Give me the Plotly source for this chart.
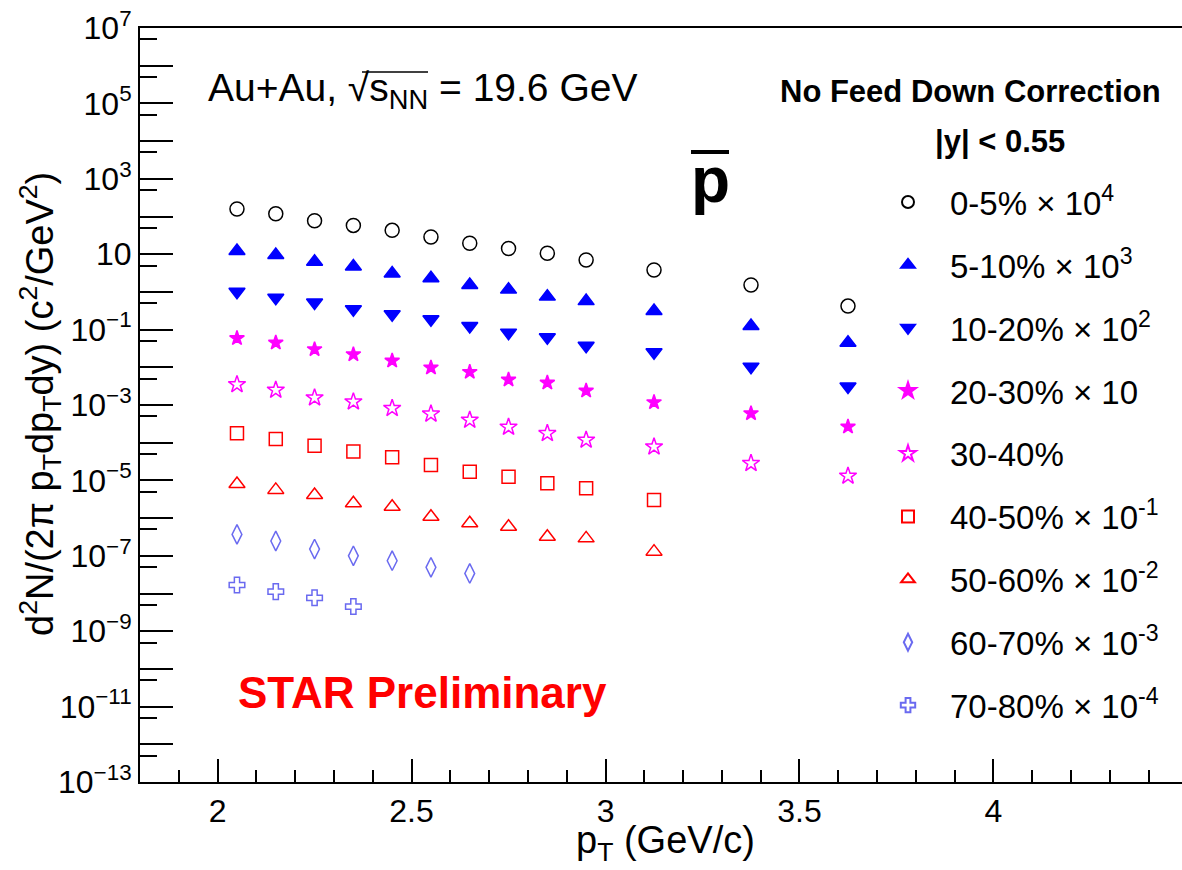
import numpy as np
import plotly.graph_objects as go

W, H = 1182, 870
ML, MR, MT, MB = 140, 0, 28, 88
PW, PH = W - ML - MR, H - MT - MB

def pxx(px):
    return (px - ML) / PW

def pyy(py):
    return (H - MB - py) / PH

# ---------------- data ----------------
pt = [2.05, 2.15, 2.25, 2.35, 2.45, 2.55, 2.65, 2.75, 2.85, 2.95, 3.125, 3.375, 3.625]

c0_5 = [158, 118, 77, 58, 43, 28.6, 19.5, 14.2, 10.6, 7.0, 3.8, 1.52, 0.42]
c5_10 = [12.2, 9.5, 6.3, 4.7, 3.1, 2.3, 1.52, 1.15, 0.75, 0.57, 0.31, 0.124, 0.045]
c10_20 = [1.01, 0.70, 0.52, 0.345, 0.255, 0.188, 0.124, 0.083, 0.0625, 0.0374, 0.025, 0.0104, 0.0031]
c20_30 = [0.059, 0.045, 0.030, 0.022, 0.015, 0.0098, 0.0075, 0.0047, 0.0039, 0.0024, 0.00118, 0.0006, 0.000265]
c30_40 = [0.0035, 0.0025, 0.00156, 0.00122, 0.00082, 0.00058, 0.0004, 0.00026, 0.000177, 0.000118, 7.8e-5, 2.84e-5, 1.31e-5]
c40_50 = [1.77e-4, 1.25e-4, 8.3e-5, 5.8e-5, 4.1e-5, 2.56e-5, 1.7e-5, 1.25e-5, 8.4e-6, 6.2e-6, 3.0e-6]
c50_60 = [8.0e-6, 5.6e-6, 4.1e-6, 2.47e-6, 2.0e-6, 1.09e-6, 7.3e-7, 5.9e-7, 3.2e-7, 2.9e-7, 1.29e-7]
c60_70 = [3.7e-7, 2.47e-7, 1.51e-7, 1.0e-7, 7.4e-8, 4.95e-8, 3.4e-8]
c70_80 = [1.68e-8, 1.12e-8, 7.7e-9, 4.5e-9]

series_names = [
    "0-5% × 10<sup>4</sup>", "5-10% × 10<sup>3</sup>", "10-20% × 10<sup>2</sup>",
    "20-30% × 10", "30-40%", "40-50% × 10<sup>-1</sup>", "50-60% × 10<sup>-2</sup>",
    "60-70% × 10<sup>-3</sup>", "70-80% × 10<sup>-4</sup>",
]
series_values = [c0_5, c5_10, c10_20, c20_30, c30_40, c40_50, c50_60, c60_70, c70_80]

x_tick_vals = [2, 2.5, 3, 3.5, 4]
x_tick_text = ["2", "2.5", "3", "3.5", "4"]
y_exponents = list(range(-13, 8))

# ---------------- styles ----------------
LB = "#6a6af0"
styles = [
    dict(symbol="circle-open", color="black", size=14),
    dict(symbol="triangle-up", color="#0000ff", size=14),
    dict(symbol="triangle-down", color="#0000ff", size=14),
    dict(symbol="star", color="#ff00ff", size=11),
    dict(symbol="star-open", color="#ff00ff", size=13),
    dict(symbol="square-open", color="#ff0000", size=13),
    dict(symbol="triangle-up-open", color="#ff0000", size=14),
    dict(symbol="diamond-tall-open", color=LB, size=14),
    dict(symbol="cross-open", color=LB, size=13),
]

FONT = "Liberation Sans, Arial, Helvetica, sans-serif"

fig = go.Figure()
for i, (name, vals, st) in enumerate(zip(series_names, series_values, styles)):
    fig.add_trace(go.Scatter(
        x=pt[:len(vals)], y=vals, mode="markers", name=name,
        legendgroup=f"g{i}",
        marker=dict(symbol=st["symbol"], size=st["size"], color=st["color"],
                    line=dict(color=st["color"], width=1.5)),
    ))

def ylab(e):
    if e % 2 == 0:
        return ""
    if e == 1:
        return "10"
    s = str(e).replace("-", "\u2212")
    return f"10<sup>{s}</sup>"

fig.update_layout(
    width=W, height=H,
    margin=dict(l=ML, r=MR, t=MT, b=MB),
    paper_bgcolor="white", plot_bgcolor="white",
    font=dict(family=FONT, color="black", size=32),
    showlegend=True,
    legend=dict(
        x=pxx(866), y=pyy(174), xanchor="left", yanchor="top",
        font=dict(family=FONT, size=33, color="black"),
        bgcolor="rgba(0,0,0,0)", tracegroupgap=17, itemsizing="constant",
        itemwidth=74,
    ),
    xaxis=dict(
        range=[1.8, 4.486], showgrid=False, zeroline=False,
        showline=True, linecolor="black", linewidth=2, mirror=True,
        ticks="inside", ticklen=23, tickwidth=1.5, tickcolor="black",
        tickmode="array", tickvals=x_tick_vals, ticktext=x_tick_text,
        tickfont=dict(size=32, family=FONT),
        minor=dict(ticks="inside", ticklen=12, tickwidth=1.5, tickcolor="black",
                   tickmode="array", tickvals=list(np.round(np.arange(1.8, 4.49, 0.1), 2))),
    ),
    yaxis=dict(
        type="log", range=[-13, 7], showgrid=False, zeroline=False,
        showline=True, linecolor="black", linewidth=2,
        ticks="inside", ticklen=33, tickwidth=1.5, tickcolor="black",
        tickmode="array", tickvals=[10.0 ** e for e in y_exponents],
        ticktext=[ylab(e) for e in y_exponents],
        tickfont=dict(size=32, family=FONT),
        minor=dict(ticks="inside", ticklen=17, tickwidth=1.5, tickcolor="black",
                   tickmode="array", tickvals=[5 * 10.0 ** e for e in range(-13, 7)]),
    ),
)

ann = [
    dict(text="Au+Au, \u221as<sub>NN</sub> = 19.6 GeV", x=pxx(206), y=pyy(90),
         xanchor="left", yanchor="middle", font=dict(size=39)),
    dict(text="<b>No Feed Down Correction</b>", x=pxx(970), y=pyy(91),
         xanchor="center", yanchor="middle", font=dict(size=31)),
    dict(text="<b>|y| < 0.55</b>", x=pxx(1000), y=pyy(141),
         xanchor="center", yanchor="middle", font=dict(size=31)),
    dict(text="<b>p</b>", x=pxx(710), y=pyy(180),
         xanchor="center", yanchor="middle", font=dict(size=64)),
    dict(text="<b>STAR Preliminary</b>", x=pxx(236), y=pyy(692),
         xanchor="left", yanchor="middle", font=dict(size=44, color="#ff0000")),
    dict(text="p<sub>T</sub> (GeV/c)", x=pxx(665), y=pyy(843),
         xanchor="center", yanchor="middle", font=dict(size=38)),
    dict(text="d<sup>2</sup>N/(2\u03c0 p<sub>T</sub>dp<sub>T</sub>dy) (c<sup>2</sup>/GeV<sup>2</sup>)",
         x=pxx(40), y=pyy(404), textangle=-90,
         xanchor="center", yanchor="middle", font=dict(size=38)),
]
for a in ann:
    a.update(xref="paper", yref="paper", showarrow=False)
    a["font"] = dict(family=FONT, color=a["font"].get("color", "black"), size=a["font"]["size"])
    fig.add_annotation(**a)

# bar over p
fig.add_shape(type="line", xref="paper", yref="paper",
              x0=pxx(691), x1=pxx(729), y0=pyy(152), y1=pyy(152),
              line=dict(color="black", width=4))
# radical overline over s_NN
fig.add_shape(type="line", xref="paper", yref="paper",
              x0=pxx(362), x1=pxx(428), y0=pyy(72), y1=pyy(72),
              line=dict(color="black", width=1.5))

fig.write_html("out.html")
